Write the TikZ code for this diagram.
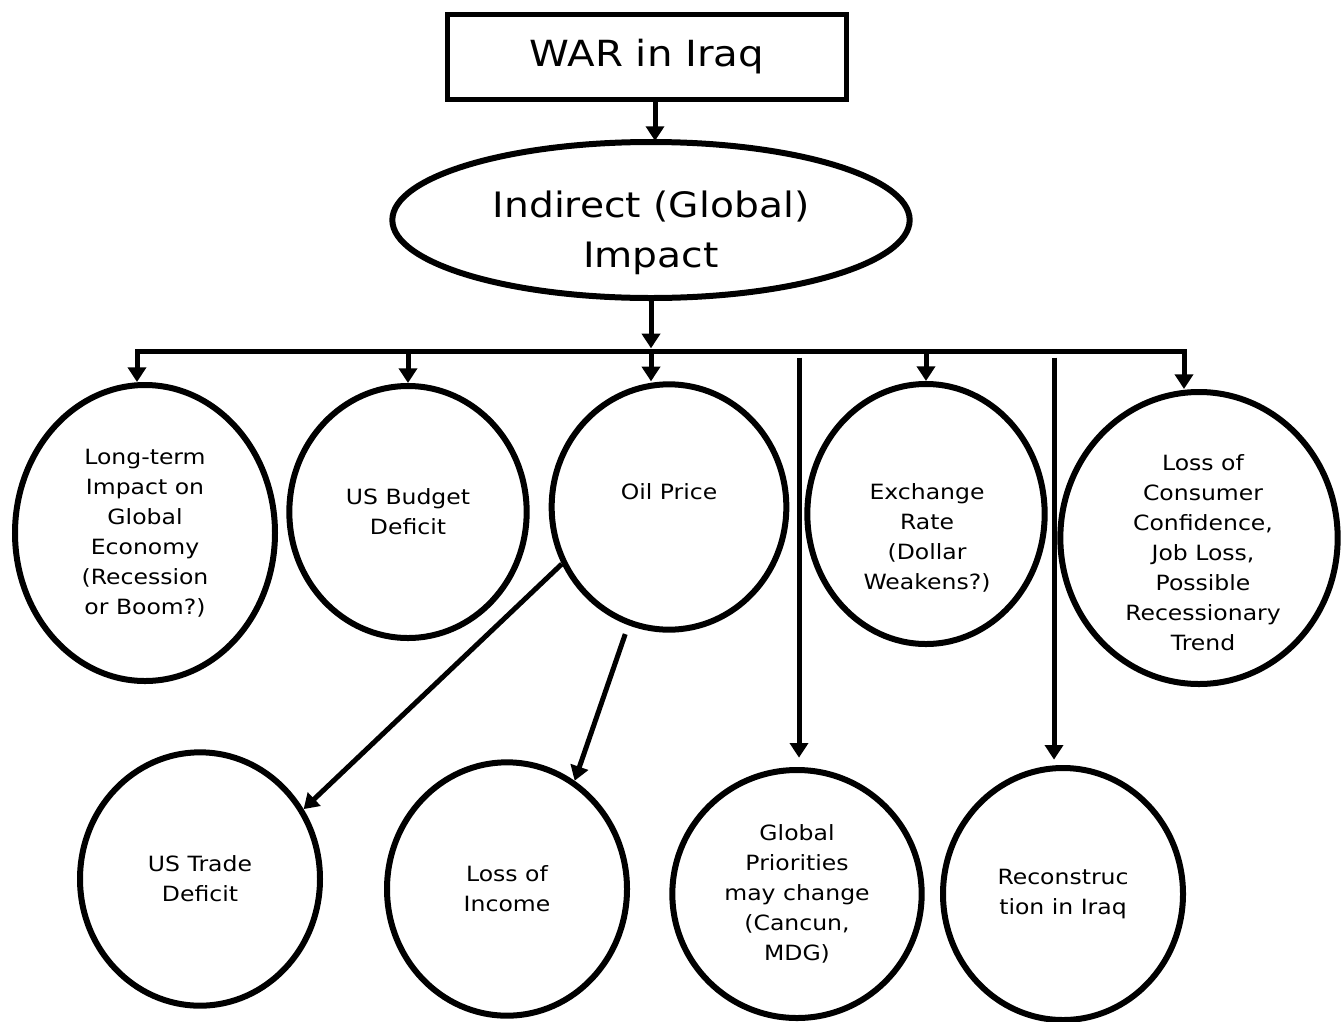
\documentclass[tikz,border=0pt]{standalone}
\usepackage{fontspec}
\setmainfont{DejaVu Sans}[FakeStretch=1.12]
\usetikzlibrary{arrows.meta, shapes.geometric, calc}

\begin{document}
\begin{tikzpicture}[x=0.75pt, y=-0.75pt,
      bubble/.style={draw, ellipse, line width=4.5pt, inner sep=0pt, align=center,
                     font=\fontsize{15.75}{22.5}\selectfont},
      caption/.style={align=center, inner sep=0pt, font=\fontsize{15.75}{22.5}\selectfont},
      topbox/.style={draw, rectangle, line width=3.4pt, minimum width=299pt,
                     minimum height=64pt, font=\fontsize{27}{32}\selectfont},
      link/.style={line width=3.75pt},
      arr/.style={link, -{Triangle[length=11pt, width=13.5pt]}}]
    \useasboundingbox (0,0) rectangle (1341,1021);
    % top
    \node[topbox] (war) at (647,57) {WAR in Iraq};
    \node[bubble, minimum width=388pt, minimum height=117pt] (impact) at (651,220) {};
    \node[caption, font=\fontsize{26.25}{38}\selectfont] (impact-t) at (651,233) {Indirect (Global)\\Impact};
    % first row
    \node[bubble, minimum width=195pt, minimum height=222pt] (longterm) at (145,533)
         {Long-term\\Impact on\\Global\\Economy\\(Recession\\or Boom?)};
    \node[bubble, minimum width=178pt, minimum height=189pt] (budget) at (408,512) {US Budget\\Deficit};
    \node[bubble, minimum width=176pt, minimum height=184pt] (oil) at (669,507) {Oil Price\\\mbox{}};
    \node[bubble, minimum width=178pt, minimum height=195pt] (exch) at (926,514) {};
    \node[caption] (exch-t) at (927,538) {Exchange\\Rate\\(Dollar\\Weakens?)};
    \node[bubble, minimum width=208pt, minimum height=219pt] (cons) at (1199,538) {};
    \node[caption] (cons-t) at (1203,553)
         {Loss of\\Consumer\\Confidence,\\Job Loss,\\Possible\\Recessionary\\Trend};
    % second row
    \node[bubble, minimum width=180pt, minimum height=190pt] (trade) at (200,879) {US Trade\\Deficit};
    \node[bubble, minimum width=180pt, minimum height=190pt] (income) at (507,889) {Loss of\\Income};
    \node[bubble, minimum width=187pt, minimum height=186pt] (glob) at (797,894)
         {Global\\Priorities\\may change\\(Cancun,\\MDG)};
    \node[bubble, minimum width=180pt, minimum height=189pt] (recon) at (1063,894) {Reconstruc\\tion in Iraq};
    % bus
    \coordinate (busL) at (137,351);
    \coordinate (busR) at (1184,351);
    \coordinate (gdrop) at (799,351);
    \coordinate (rdrop) at (1054,351);
    \draw[link, line cap=rect] (busL) -- (busR);
    \draw[arr] ([xshift=6pt]war.south) -- ++(0,39);
    \draw[arr, shorten >=2pt] (impact) -- (impact |- busL);
    \draw[arr] (busL) -- (busL |- longterm.north);
    \draw[arr] (budget.north |- busL) -- (budget);
    \draw[arr] (impact |- busL) -- (impact |- oil.north);
    \draw[arr] (exch.north |- busL) -- (exch);
    \draw[arr] (busR) -- (busR |- cons.north);
    \draw[arr, shorten <=5pt, shorten >=7pt] (gdrop) -- (gdrop |- glob.north);
    \draw[arr, shorten <=5pt, shorten >=4pt] (rdrop) -- (rdrop |- recon.north);
    \draw[arr] (oil.208) -- (trade.34);
    \draw[arr, shorten <=7pt] (oil.251) -- (income.58);
  \end{tikzpicture}
\end{document}
